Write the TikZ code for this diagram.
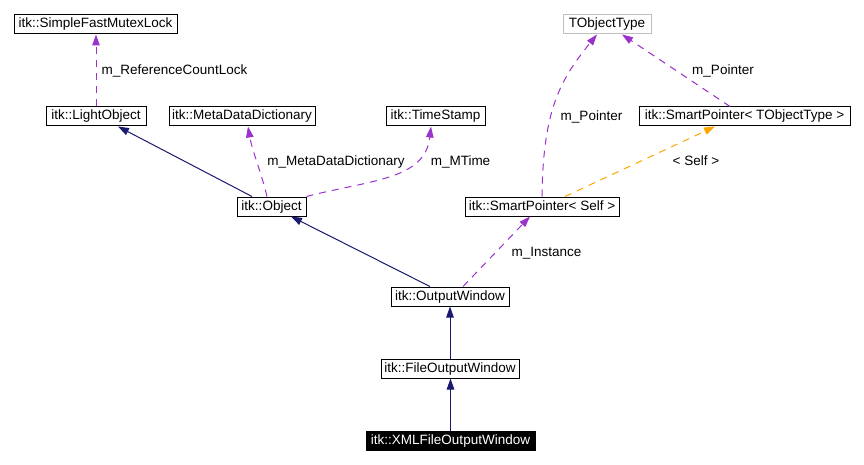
\documentclass[tikz,border=0pt]{standalone}
\usepackage{fontspec}
\setmainfont{Liberation Sans}
\usetikzlibrary{arrows.meta}
\definecolor{edgepurple}{HTML}{9A32CD}
\definecolor{edgenavy}{HTML}{191970}
\definecolor{edgeorange}{HTML}{FFA500}
\definecolor{boxgray}{HTML}{BFBFBF}
\begin{document}
\begin{tikzpicture}[x=1pt,y=-1pt,
  font=\fontsize{13.5}{15}\selectfont,
  cls/.style={draw=black, line width=1pt, fill=white, inner sep=0pt,
    minimum height=19pt, text height=9.5pt, text depth=2.5pt},
  ghost/.style={cls, draw=boxgray},
  here/.style={cls, fill=black, text=white},
  lbl/.style={inner sep=0pt, text height=9.5pt, text depth=2.5pt},
  inherit/.style={draw=edgenavy, line width=1pt,
    -{Triangle[length=11pt,width=7.5pt,fill=edgenavy]}},
  member/.style={draw=edgepurple, line width=1pt, dash pattern=on 7pt off 6pt,
    -{Triangle[length=11pt,width=7.5pt,fill=edgepurple]}},
  tmpl/.style={draw=edgeorange, line width=1pt, dash pattern=on 7pt off 6pt,
    -{Triangle[length=11pt,width=7.5pt,fill=edgeorange]}}]
\useasboundingbox (0,0) rectangle (864,465);
\fill[white] (0,0) rectangle (864,465);

% nodes
\node[cls, minimum width=163pt] (sfml) at (95.5,24.5) {itk::SimpleFastMutexLock};
\node[cls, minimum width=100pt] (lo) at (96,116.5) {itk::LightObject};
\node[cls, minimum width=146pt] (mdd) at (242,116.5) {itk::MetaDataDictionary};
\node[cls, minimum width=99pt] (ts) at (435.5,116.5) {itk::TimeStamp};
\node[cls, minimum width=69pt] (obj) at (271.5,206.5) {itk::Object};
\node[ghost, minimum width=88pt] (tot) at (607,24.5) {TObjectType};
\node[cls, minimum width=211pt] (spt) at (744.5,116.5) {itk::SmartPointer< TObjectType >};
\node[cls, minimum width=154pt] (sps) at (542,206.5) {itk::SmartPointer< Self >};
\node[cls, minimum width=118pt] (ow) at (450,296.5) {itk::OutputWindow};
\node[cls, minimum width=138pt] (fow) at (450,368.5) {itk::FileOutputWindow};
\node[here, minimum width=169pt] (xml) at (450.5,440.5) {itk::XMLFileOutputWindow};

% edges
\draw[member] (lo.north) -- (lo.north |- sfml.south);
\node[lbl] (l1) at (174.5,71) {m\_ReferenceCountLock};

\draw[inherit] ([xshift=-19.5pt]obj.north) -- ([xshift=22pt]lo.south);

\draw[member] ([xshift=-4.5pt]obj.north) .. controls (262,175) and (252,150) .. ([xshift=6pt]mdd.south);
\node[lbl] (l2) at (336,162) {m\_MetaDataDictionary};

\draw[member] (obj.north east) .. controls (370,180) and (425,180) .. ([xshift=-4.5pt]ts.south);
\node[lbl] (l3) at (460.5,162) {m\_MTime};

\draw[member] (sps.north) .. controls (543,110) and (560,80) .. ([xshift=-10pt]tot.south);
\node[lbl] (l4) at (591.5,117) {m\_Pointer};

\draw[member] ([xshift=-14.5pt]spt.north) -- ([xshift=15pt]tot.south);
\node[lbl] (l5) at (723,71) {m\_Pointer};

\draw[tmpl] ([xshift=23pt]sps.north) -- ([xshift=-29.5pt]spt.south);
\node[lbl] (l6) at (696,162) {< Self >};

\draw[inherit] ([xshift=-20pt]ow.north) -- ([xshift=19.5pt]obj.south);

\draw[member] ([xshift=13pt]ow.north) -- ([xshift=-12pt]sps.south);
\node[lbl] (l7) at (546.5,253) {m\_Instance};

\draw[inherit] (fow.north) -- (ow.south);
\draw[inherit] (xml.north) -- (xml.north |- fow.south);
\end{tikzpicture}
\end{document}
